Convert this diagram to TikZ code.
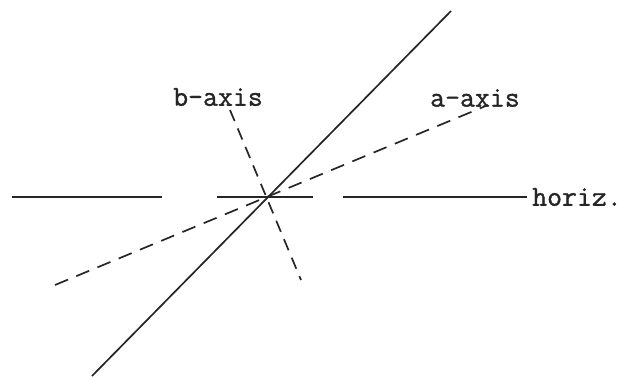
\documentclass[tikz,border=0pt]{standalone}
\usepackage{fontspec}
\newfontfamily\twfont{Latin Modern Mono}[FakeBold=1.2]
\begin{document}
\begin{tikzpicture}[x=1pt,y=-1pt,
  solidline/.style={line width=1.7pt,black!85},
  axisdash/.style={line width=1.7pt,black!85,dash pattern=on 12pt off 8pt},
  lbl/.style={font=\fontsize{29}{30}\selectfont\twfont\bfseries,inner sep=0pt,text=black!85}]
\useasboundingbox (0,0) rectangle (635,376);
% key points
\coordinate (O) at (264,198);
\coordinate (dTop) at (451,11);
\coordinate (dBot) at (92,376);
\coordinate (hL) at (12,197);
\coordinate (hL2) at (162,197);
\coordinate (hM1) at (217,197);
\coordinate (hM2) at (313,197);
\coordinate (hR1) at (343,197);
\coordinate (hR) at (527,197);
\coordinate (aL) at (55,285);
\coordinate (aR) at (488,105);
\coordinate (bT) at (230,110);
\coordinate (bB) at (301,280);
% solid diagonal
\draw[solidline] (dBot) -- (dTop);
% horizontal (broken)
\draw[solidline] (hL) -- (hL2);
\draw[solidline] (hM1) -- (hM2);
\draw[solidline] (hR1) -- (hR);
% a-axis
\draw[axisdash,dash pattern=on 14pt off 9pt] (aL) -- (aR);
% b-axis
\draw[axisdash] (bT) -- (bB);
% labels
\node[lbl] (blab) at (218,97) {b-axis};
\node[lbl] (alab) at (475,98) {a-axis};
\node[lbl,anchor=west] (hlab) at (532,197) {horiz.};
\end{tikzpicture}
\end{document}
